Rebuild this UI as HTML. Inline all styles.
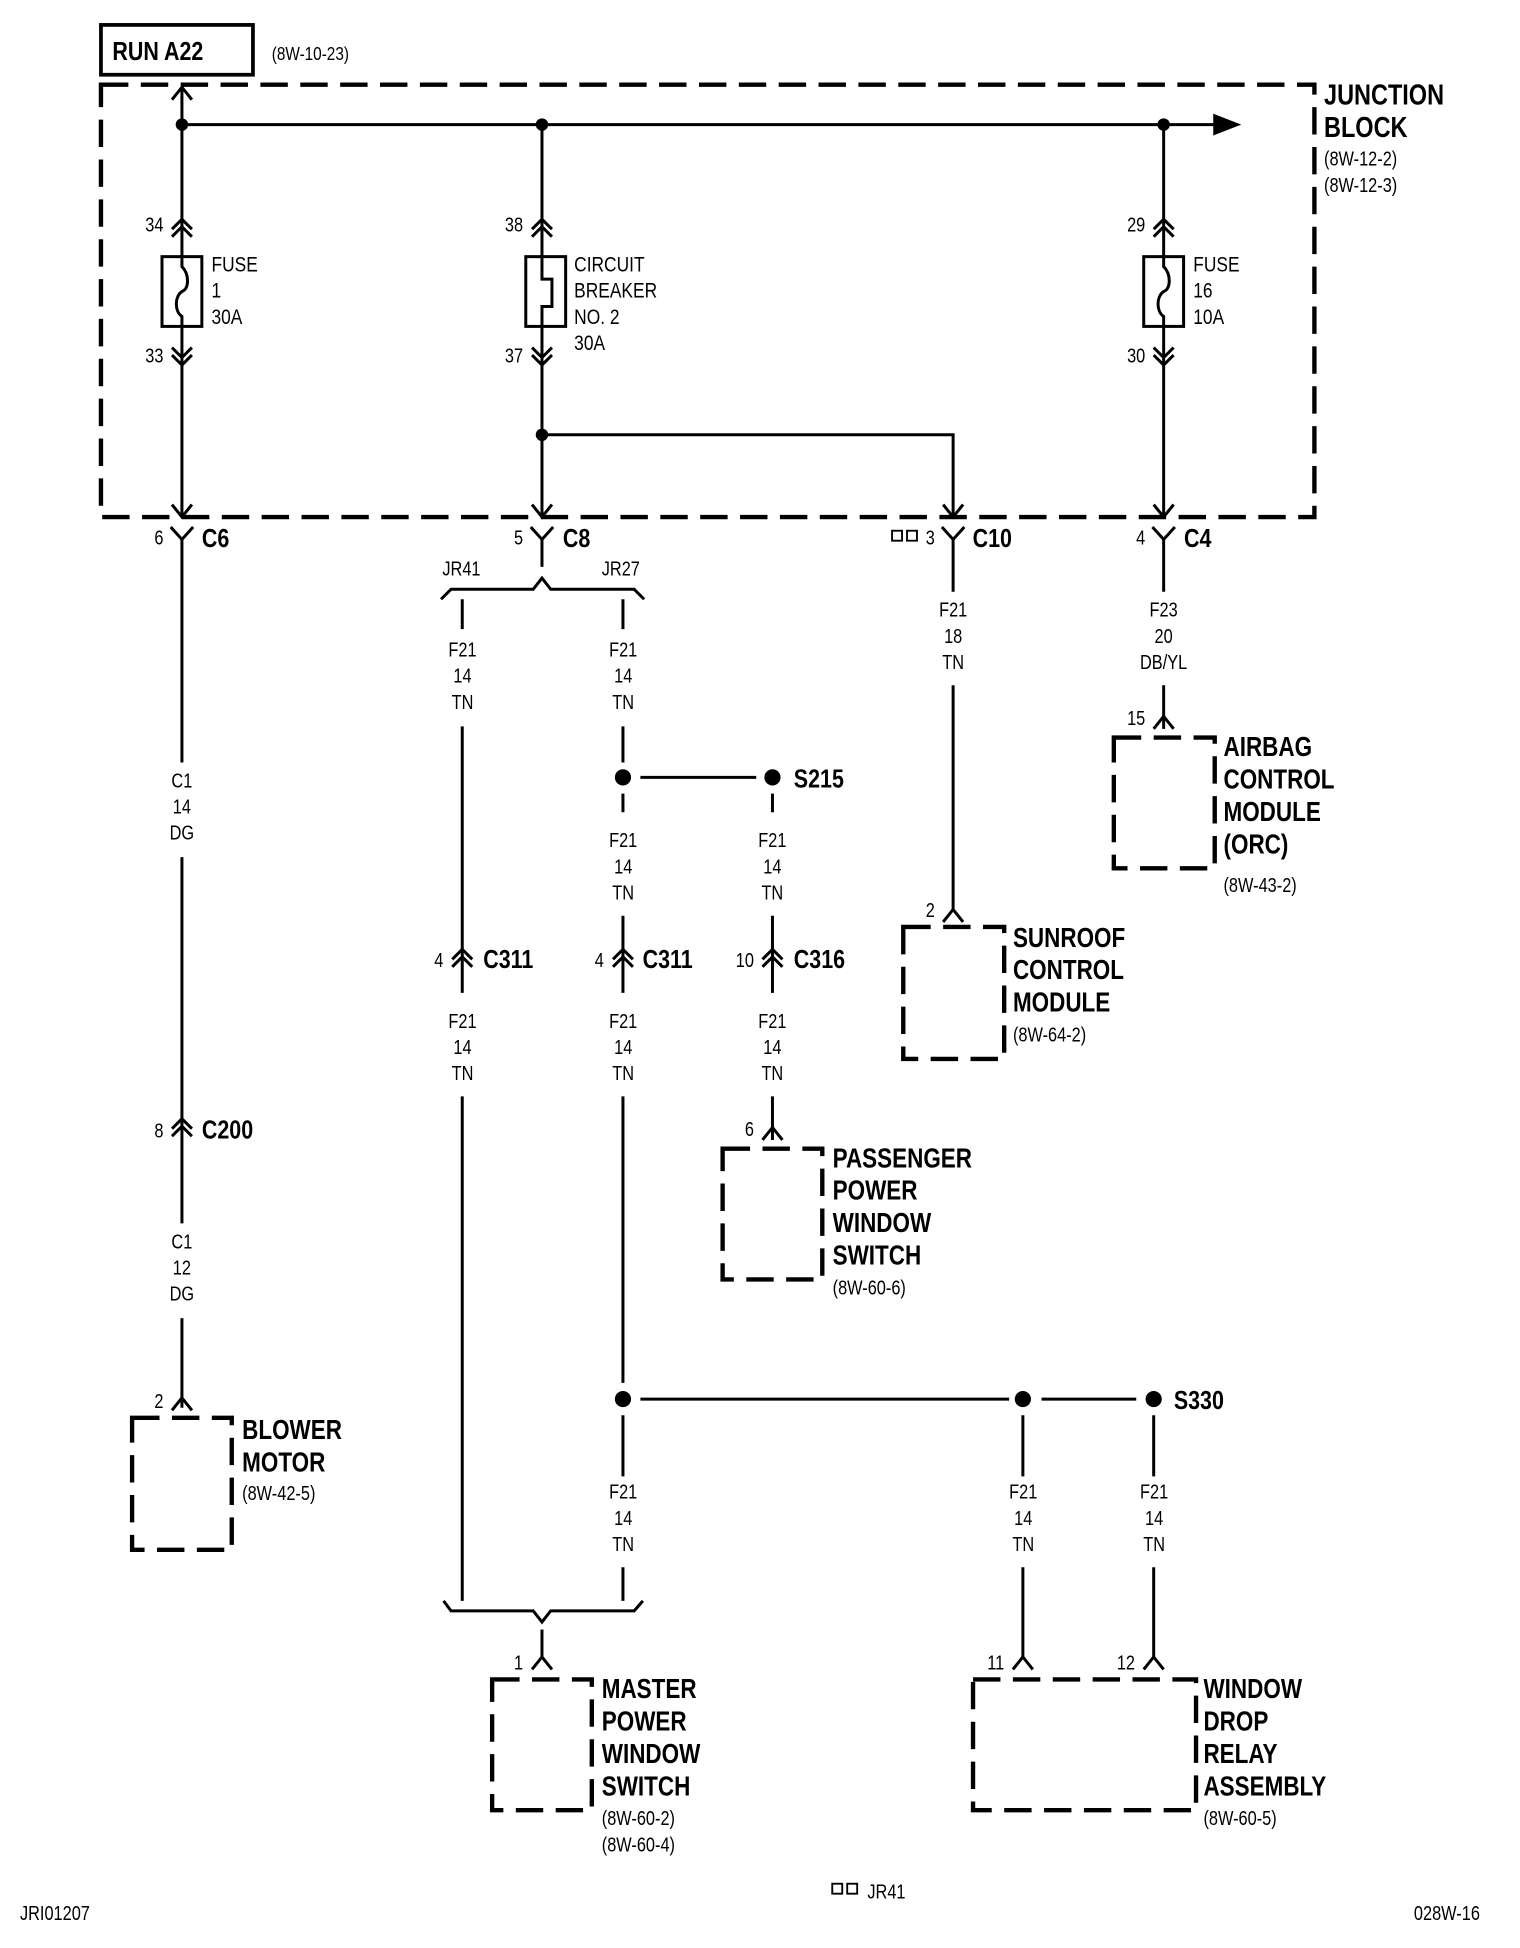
<!DOCTYPE html>
<html><head><meta charset="utf-8"><style>
html,body{margin:0;padding:0;background:#fff}
svg{display:block}
text{font-family:"Liberation Sans",sans-serif;fill:#000}
.b{font-weight:bold}
.w{font-size:16px}
.m{text-anchor:middle}
.e{text-anchor:end}
</style></head><body>
<svg width="1520" height="1948" viewBox="0 0 1220 1563.6" xmlns="http://www.w3.org/2000/svg">
<g fill="none" stroke="#000" stroke-width="2.4">
<!-- RUN box -->
<rect x="81" y="20" width="122" height="40" stroke-width="3"/>
<!-- junction block -->
<rect x="81" y="68" width="974" height="347" stroke-width="3.5" stroke-dasharray="22 10"/>
<!-- bus -->
<path d="M146,100 H978"/>
<path d="M975,93 L993,100 L975,107 Z" fill="#000"/>
<!-- x=146 column -->
<path d="M146,70 V206 M146,262 V415"/>
<path d="M138,80 L146,70 L154,80"/>
<path d="M138,184 L146,176 L154,184 M138,190 L146,182 L154,190"/>
<rect x="130" y="206" width="32" height="56"/>
<path d="M146,206 V214 C152,220 152,232 146,234 C140,238 140,250 146,254 V262"/>
<path d="M138,279 L146,287 L154,279 M138,285 L146,293 L154,285"/>
<path d="M138,405 L146,415 L154,405"/>
<!-- x=435 column -->
<path d="M435,100 V206 M435,262 V415"/>
<path d="M427,184 L435,176 L443,184 M427,190 L435,182 L443,190"/>
<rect x="422" y="206" width="32" height="56"/>
<path d="M435,206 V224 H443 V246 H435 V262"/>
<path d="M427,279 L435,287 L443,279 M427,285 L435,293 L443,285"/>
<path d="M427,405 L435,415 L443,405"/>
<path d="M435,349 H765 V415"/>
<path d="M757,405 L765,415 L773,405"/>
<!-- x=934 column -->
<path d="M934,100 V206 M934,262 V415"/>
<path d="M926,184 L934,176 L942,184 M926,190 L934,182 L942,190"/>
<rect x="918" y="206" width="32" height="56"/>
<path d="M934,206 V214 C940,220 940,232 934,234 C928,238 928,250 934,254 V262"/>
<path d="M926,279 L934,287 L942,279 M926,285 L934,293 L942,285"/>
<path d="M926,405 L934,415 L942,405"/>
<!-- Y connectors below block -->
<path d="M137,423 L146,433 L155,423 M426,423 L435,433 L444,423 M756,423 L765,433 L774,423 M925,423 L934,433 L943,423"/>
<!-- C6 wire -->
<path d="M146,433 V612 M146,688 V982 M146,1058 V1130"/>
<path d="M138,906 L146,898 L154,906 M138,912 L146,904 L154,912"/>
<path d="M138,1132 L146,1122 L154,1132"/>
<rect x="106" y="1138" width="80" height="106" stroke-width="3.5" stroke-dasharray="22 10"/>
<!-- C8 -->
<path d="M435,433 V455"/>
<path d="M354,481 L362,473 H428 L435,464 L442,473 H509 L517,481"/>
<path d="M371,481 V505 M371,583 V797 M371,880 V1285"/>
<path d="M363,770 L371,762 L379,770 M363,776 L371,768 L379,776"/>
<path d="M500,481 V505 M500,583 V612 M500,637 V652 M500,735 V797 M500,880 V1110 M500,1136 V1185 M500,1258 V1285"/>
<path d="M492,770 L500,762 L508,770 M492,776 L500,768 L508,776"/>
<path d="M514,624 H607"/>
<path d="M620,637 V652 M620,735 V797 M620,880 V915"/>
<path d="M612,770 L620,762 L628,770 M612,776 L620,768 L628,776"/>
<path d="M612,915 L620,905 L628,915"/>
<rect x="580" y="922" width="80" height="105" stroke-width="3.5" stroke-dasharray="22 10"/>
<path d="M356,1285 L362,1293 H428 L435,1302 L442,1293 H509 L516,1285"/>
<path d="M435,1308 V1330"/>
<path d="M427,1340 L435,1330 L443,1340"/>
<rect x="395" y="1348" width="80" height="105" stroke-width="3.5" stroke-dasharray="22 10"/>
<path d="M514,1123 H810 M836,1123 H912"/>
<path d="M821,1136 V1185 M821,1258 V1330 M926,1136 V1185 M926,1258 V1330"/>
<path d="M813,1340 L821,1330 L829,1340 M918,1340 L926,1330 L934,1340"/>
<rect x="781" y="1348" width="179" height="105" stroke-width="3.5" stroke-dasharray="22 10"/>
<!-- C10 -->
<path d="M765,433 V475 M765,550 V730"/>
<path d="M757,740 L765,730 L773,740"/>
<rect x="725" y="744" width="81" height="106" stroke-width="3.5" stroke-dasharray="22 10"/>
<!-- C4 -->
<path d="M934,433 V475 M934,550 V585"/>
<path d="M926,585 L934,575 L942,585"/>
<rect x="894" y="592" width="81" height="105" stroke-width="3.5" stroke-dasharray="22 10"/>
<!-- small squares -->
<rect x="716" y="426" width="8" height="8" stroke-width="1.5"/>
<rect x="728" y="426" width="8" height="8" stroke-width="1.5"/>
<rect x="668" y="1512" width="8" height="8" stroke-width="1.5"/>
<rect x="680" y="1512" width="8" height="8" stroke-width="1.5"/>
</g>
<g fill="#000">
<circle cx="146" cy="100" r="5"/><circle cx="435" cy="100" r="5"/><circle cx="934" cy="100" r="5"/>
<circle cx="435" cy="349" r="5"/>
<circle cx="500" cy="624" r="6.5"/><circle cx="620" cy="624" r="6.5"/>
<circle cx="500" cy="1123" r="6.5"/><circle cx="821" cy="1123" r="6.5"/><circle cx="926" cy="1123" r="6.5"/>
</g>
<g transform="scale(0.82,1)">
<text x="110" y="48" class="b" font-size="21">RUN A22</text>
<text x="266" y="48" font-size="15">(8W-10-23)</text>
<text x="1296" y="84" class="b" font-size="23">JUNCTION</text>
<text x="1296" y="110" class="b" font-size="23">BLOCK</text>
<text x="1296" y="133" font-size="16">(8W-12-2)</text>
<text x="1296" y="154" font-size="16">(8W-12-3)</text>
<g font-size="17">
<text x="207" y="218">FUSE</text><text x="207" y="239">1</text><text x="207" y="260">30A</text>
<text x="562" y="218">CIRCUIT</text><text x="562" y="239">BREAKER</text><text x="562" y="260">NO. 2</text><text x="562" y="281">30A</text>
<text x="1168" y="218">FUSE</text><text x="1168" y="239">16</text><text x="1168" y="260">10A</text>
</g>
<g font-size="16" class="e">
<text x="160" y="186">34</text><text x="160" y="291">33</text>
<text x="512" y="186">38</text><text x="512" y="291">37</text>
<text x="1121" y="186">29</text><text x="1121" y="291">30</text>
<text x="160" y="437">6</text><text x="512" y="437">5</text><text x="915" y="437">3</text><text x="1121" y="437">4</text>
<text x="434" y="776">4</text><text x="591" y="776">4</text><text x="738" y="776">10</text>
<text x="160" y="913">8</text><text x="160" y="1130">2</text><text x="915" y="736">2</text>
<text x="1121" y="582">15</text><text x="738" y="912">6</text><text x="512" y="1340">1</text>
<text x="983" y="1340">11</text><text x="1111" y="1340">12</text>
</g>
<g class="b" font-size="21">
<text x="197.6" y="439">C6</text><text x="551" y="439">C8</text><text x="952" y="439">C10</text><text x="1159" y="439">C4</text>
<text x="473" y="777">C311</text><text x="629" y="777">C311</text><text x="777" y="777">C316</text>
<text x="197.6" y="914">C200</text><text x="777" y="632">S215</text><text x="1149" y="1131">S330</text>
</g>
<text x="433" y="462" font-size="16">JR41</text><text x="589" y="462" font-size="16">JR27</text>
<g class="w m">
<text x="178" y="632">C1</text><text x="178" y="653">14</text><text x="178" y="674">DG</text>
<text x="178" y="1002">C1</text><text x="178" y="1023">12</text><text x="178" y="1044">DG</text>
<text x="452.7" y="527">F21</text><text x="452.7" y="548">14</text><text x="452.7" y="569">TN</text>
<text x="452.7" y="825">F21</text><text x="452.7" y="846">14</text><text x="452.7" y="867">TN</text>
<text x="610" y="527">F21</text><text x="610" y="548">14</text><text x="610" y="569">TN</text>
<text x="610" y="680">F21</text><text x="610" y="701">14</text><text x="610" y="722">TN</text>
<text x="610" y="825">F21</text><text x="610" y="846">14</text><text x="610" y="867">TN</text>
<text x="610" y="1203">F21</text><text x="610" y="1224">14</text><text x="610" y="1245">TN</text>
<text x="756" y="680">F21</text><text x="756" y="701">14</text><text x="756" y="722">TN</text>
<text x="756" y="825">F21</text><text x="756" y="846">14</text><text x="756" y="867">TN</text>
<text x="933" y="495">F21</text><text x="933" y="516">18</text><text x="933" y="537">TN</text>
<text x="1139" y="495">F23</text><text x="1139" y="516">20</text><text x="1139" y="537">DB/YL</text>
<text x="1001.6" y="1203">F21</text><text x="1001.6" y="1224">14</text><text x="1001.6" y="1245">TN</text>
<text x="1129.7" y="1203">F21</text><text x="1129.7" y="1224">14</text><text x="1129.7" y="1245">TN</text>
</g>
<g class="b" font-size="22">
<text x="237" y="1155">BLOWER</text><text x="237" y="1181">MOTOR</text>
<text x="815" y="937">PASSENGER</text><text x="815" y="963">POWER</text><text x="815" y="989">WINDOW</text><text x="815" y="1015">SWITCH</text>
<text x="991.5" y="760">SUNROOF</text><text x="991.5" y="786">CONTROL</text><text x="991.5" y="812">MODULE</text>
<text x="1197.6" y="607">AIRBAG</text><text x="1197.6" y="633">CONTROL</text><text x="1197.6" y="659">MODULE</text><text x="1197.6" y="685">(ORC)</text>
<text x="589" y="1363">MASTER</text><text x="589" y="1389">POWER</text><text x="589" y="1415">WINDOW</text><text x="589" y="1441">SWITCH</text>
<text x="1178" y="1363">WINDOW</text><text x="1178" y="1389">DROP</text><text x="1178" y="1415">RELAY</text><text x="1178" y="1441">ASSEMBLY</text>
</g>
<g font-size="16">
<text x="237" y="1204">(8W-42-5)</text>
<text x="815" y="1039">(8W-60-6)</text>
<text x="991.5" y="836">(8W-64-2)</text>
<text x="1197.6" y="716">(8W-43-2)</text>
<text x="589" y="1465">(8W-60-2)</text><text x="589" y="1486">(8W-60-4)</text>
<text x="1178" y="1465">(8W-60-5)</text>
<text x="19.5" y="1541">JRI01207</text>
<text x="849" y="1524">JR41</text>
<text x="1384" y="1541">028W-16</text>
</g>
</g>
</svg>
</body></html>
